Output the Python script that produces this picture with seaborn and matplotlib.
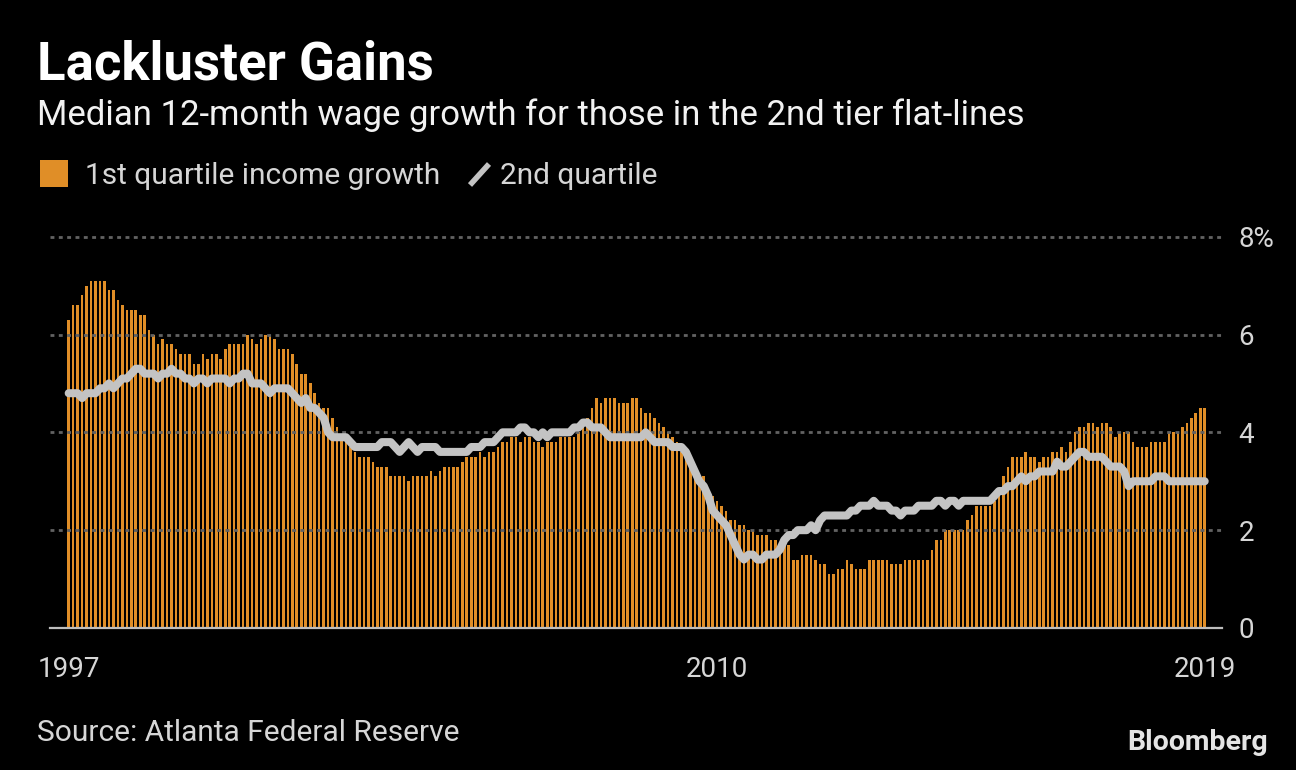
import numpy as np
import pandas as pd
import seaborn as sns
import matplotlib.pyplot as plt
from matplotlib.patches import Rectangle
from matplotlib.lines import Line2D

# monthly values, Dec 1997 .. Feb 2019
first_quartile = [
    6.3, 6.6, 6.6, 6.8, 7.0, 7.1, 7.1, 7.1, 7.1, 6.9, 6.9, 6.7, 6.6, 6.5, 6.5, 6.5, 6.4, 6.4, 6.1, 6.0,
    5.8, 5.9, 5.8, 5.8, 5.7, 5.6, 5.6, 5.6, 5.4, 5.4, 5.6, 5.5, 5.6, 5.6, 5.5, 5.7, 5.8, 5.8, 5.8, 5.8,
    6.0, 5.9, 5.8, 5.9, 6.0, 6.0, 5.9, 5.7, 5.7, 5.7, 5.6, 5.4, 5.2, 5.2, 5.0, 4.8, 4.6, 4.5, 4.5, 4.3,
    4.1, 3.9, 3.9, 3.7, 3.6, 3.5, 3.5, 3.5, 3.4, 3.3, 3.3, 3.3, 3.1, 3.1, 3.1, 3.1, 3.0, 3.1, 3.1, 3.1,
    3.1, 3.2, 3.1, 3.2, 3.3, 3.3, 3.3, 3.3, 3.4, 3.5, 3.5, 3.5, 3.6, 3.5, 3.6, 3.6, 3.7, 3.8, 3.8, 3.9,
    3.9, 3.8, 3.9, 3.9, 3.8, 3.8, 3.7, 3.8, 3.8, 3.8, 3.9, 3.9, 3.9, 3.9, 4.0, 4.1, 4.3, 4.5, 4.7, 4.6,
    4.7, 4.7, 4.7, 4.6, 4.6, 4.6, 4.7, 4.7, 4.5, 4.4, 4.4, 4.3, 4.2, 4.1, 4.0, 3.9, 3.8, 3.6, 3.5, 3.3,
    3.2, 3.1, 3.1, 2.8, 2.7, 2.6, 2.5, 2.4, 2.2, 2.2, 2.1, 2.1, 2.0, 2.0, 1.9, 1.9, 1.9, 1.8, 1.8, 1.7,
    1.7, 1.7, 1.4, 1.4, 1.5, 1.5, 1.5, 1.4, 1.3, 1.3, 1.1, 1.1, 1.2, 1.2, 1.4, 1.3, 1.2, 1.2, 1.2, 1.4,
    1.4, 1.4, 1.4, 1.4, 1.3, 1.3, 1.3, 1.4, 1.4, 1.4, 1.4, 1.4, 1.4, 1.6, 1.8, 1.8, 2.0, 2.0, 2.0, 2.0,
    2.0, 2.2, 2.3, 2.5, 2.5, 2.5, 2.5, 2.6, 2.8, 3.1, 3.3, 3.5, 3.5, 3.5, 3.6, 3.5, 3.5, 3.4, 3.5, 3.5,
    3.6, 3.6, 3.7, 3.6, 3.8, 4.0, 4.1, 4.1, 4.2, 4.2, 4.1, 4.2, 4.2, 4.1, 3.9, 4.0, 4.0, 4.0, 3.8, 3.7,
    3.7, 3.7, 3.8, 3.8, 3.8, 3.8, 4.0, 4.0, 4.0, 4.1, 4.2, 4.3, 4.4, 4.5, 4.5,
]

second_quartile = [
    4.8, 4.8, 4.8, 4.7, 4.8, 4.8, 4.8, 4.9, 4.9, 5.0, 4.9, 5.0, 5.1, 5.1, 5.2, 5.3, 5.3, 5.2, 5.2, 5.2,
    5.1, 5.2, 5.2, 5.3, 5.2, 5.2, 5.1, 5.1, 5.0, 5.1, 5.1, 5.0, 5.1, 5.1, 5.1, 5.1, 5.0, 5.1, 5.1, 5.2,
    5.2, 5.0, 5.0, 5.0, 4.9, 4.8, 4.9, 4.9, 4.9, 4.9, 4.8, 4.7, 4.6, 4.7, 4.5, 4.5, 4.4, 4.3, 4.0, 3.9,
    3.9, 3.9, 3.9, 3.8, 3.7, 3.7, 3.7, 3.7, 3.7, 3.7, 3.8, 3.8, 3.8, 3.7, 3.6, 3.7, 3.8, 3.7, 3.6, 3.7,
    3.7, 3.7, 3.7, 3.6, 3.6, 3.6, 3.6, 3.6, 3.6, 3.6, 3.7, 3.7, 3.7, 3.8, 3.8, 3.8, 3.9, 4.0, 4.0, 4.0,
    4.0, 4.1, 4.1, 4.0, 4.0, 3.9, 4.0, 3.9, 4.0, 4.0, 4.0, 4.0, 4.0, 4.1, 4.1, 4.2, 4.2, 4.1, 4.1, 4.1,
    4.0, 3.9, 3.9, 3.9, 3.9, 3.9, 3.9, 3.9, 3.9, 4.0, 3.9, 3.8, 3.8, 3.8, 3.8, 3.7, 3.7, 3.7, 3.6, 3.4,
    3.2, 3.0, 2.9, 2.7, 2.4, 2.3, 2.2, 2.1, 1.9, 1.7, 1.5, 1.4, 1.5, 1.5, 1.4, 1.4, 1.5, 1.5, 1.5, 1.6,
    1.8, 1.9, 1.9, 2.0, 2.0, 2.0, 2.1, 2.0, 2.2, 2.3, 2.3, 2.3, 2.3, 2.3, 2.3, 2.4, 2.4, 2.5, 2.5, 2.5,
    2.6, 2.5, 2.5, 2.5, 2.4, 2.4, 2.3, 2.4, 2.4, 2.4, 2.5, 2.5, 2.5, 2.5, 2.6, 2.6, 2.5, 2.6, 2.6, 2.5,
    2.6, 2.6, 2.6, 2.6, 2.6, 2.6, 2.6, 2.7, 2.8, 2.8, 2.9, 2.9, 3.0, 3.1, 3.0, 3.1, 3.1, 3.2, 3.2, 3.2,
    3.2, 3.4, 3.3, 3.3, 3.4, 3.5, 3.6, 3.6, 3.5, 3.5, 3.5, 3.5, 3.4, 3.3, 3.3, 3.3, 3.2, 2.9, 3.0, 3.0,
    3.0, 3.0, 3.0, 3.1, 3.1, 3.1, 3.0, 3.0, 3.0, 3.0, 3.0, 3.0, 3.0, 3.0, 3.0,
]

months = pd.date_range("1997-12-01", periods=len(first_quartile), freq="MS")
tick_dates = ["1997-12-01", "2010-01-01", "2019-02-01"]
tick_labels = ["1997", "2010", "2019"]
y_ticks = [0, 2, 4, 6, 8]
y_labels = ["0", "2", "4", "6", "8%"]

ORANGE = "#e08e27"
LINE_GREY = "#c3c3c3"
TEXT_GREY = "#d6d6d6"

sns.set_style("dark", {"axes.facecolor": "black", "figure.facecolor": "black"})
plt.rcParams["font.family"] = ["Roboto", "DejaVu Sans"]

df = pd.DataFrame({"month": months, "q1": first_quartile, "q2": second_quartile})
df["pos"] = np.arange(len(df))

W, H = 1296, 770
fig = plt.figure(figsize=(W / 100, H / 100), dpi=100, facecolor="black")
ax = fig.add_axes([50 / W, 142 / H, 1172 / W, 406 / H])
ax.set_facecolor("black")

sns.barplot(data=df, x="pos", y="q1", color=ORANGE, width=0.58, saturation=1,
            linewidth=0, errorbar=None, ax=ax, zorder=1)
sns.lineplot(data=df, x="pos", y="q2", color=LINE_GREY, linewidth=5.8, ax=ax,
             zorder=4, solid_joinstyle="round", solid_capstyle="round")

ax.set_xlim(-4.18, len(df) - 1 + 3.87)
ax.set_ylim(0, 8.3)

# dotted gridlines
for v in y_ticks[1:]:
    ax.axhline(v, color="#626262", linewidth=2.0, linestyle=(0, (1.4, 1.6)), zorder=2)

tick_pos = [df.index[df["month"] == pd.Timestamp(d)][0] for d in tick_dates]
ax.set_xticks(tick_pos, labels=tick_labels)
ax.yaxis.tick_right()
ax.set_yticks(y_ticks, labels=y_labels)
ax.set_xlabel("")
ax.set_ylabel("")
ax.grid(False)

for side in ["top", "left", "right"]:
    ax.spines[side].set_visible(False)
ax.spines["bottom"].set_color("#bdbdbd")
ax.spines["bottom"].set_linewidth(1.6)
ax.spines["bottom"].set_zorder(5)

ax.tick_params(axis="x", length=7, width=1.6, color="#bdbdbd", labelcolor=TEXT_GREY,
               labelsize=20, pad=13, direction="out")
ax.tick_params(axis="y", length=0, labelcolor=TEXT_GREY, labelsize=20, pad=12)


def fx(px):
    return px / W


def fy(py):
    return 1 - py / H


fig.text(fx(37), fy(79), "Lackluster Gains", color="white", fontsize=38,
         fontweight="bold", va="baseline")
fig.text(fx(37), fy(125), "Median 12-month wage growth for those in the 2nd tier flat-lines",
         color="#f2f2f2", fontsize=25, va="baseline")

# legend
fig.patches.append(Rectangle((fx(40), fy(187)), 28 / W, 27 / H, transform=fig.transFigure,
                             facecolor=ORANGE, edgecolor="none"))
fig.text(fx(85), fy(184), "1st quartile income growth", color=TEXT_GREY, fontsize=21.5,
         va="baseline")
fig.lines.append(Line2D([fx(470), fx(489)], [fy(185), fy(164)], transform=fig.transFigure,
                        color=LINE_GREY, linewidth=4, solid_capstyle="butt"))
fig.text(fx(500), fy(184), "2nd quartile", color=TEXT_GREY, fontsize=21.5, va="baseline")

fig.text(fx(37), fy(741), "Source: Atlanta Federal Reserve", color=TEXT_GREY, fontsize=21.5,
         va="baseline")
fig.text(fx(1268), fy(750), "Bloomberg", color="#e4e4e4", fontsize=20.5, fontweight="bold",
         ha="right", va="baseline")

fig.savefig("out.png", dpi=100, facecolor="black")
